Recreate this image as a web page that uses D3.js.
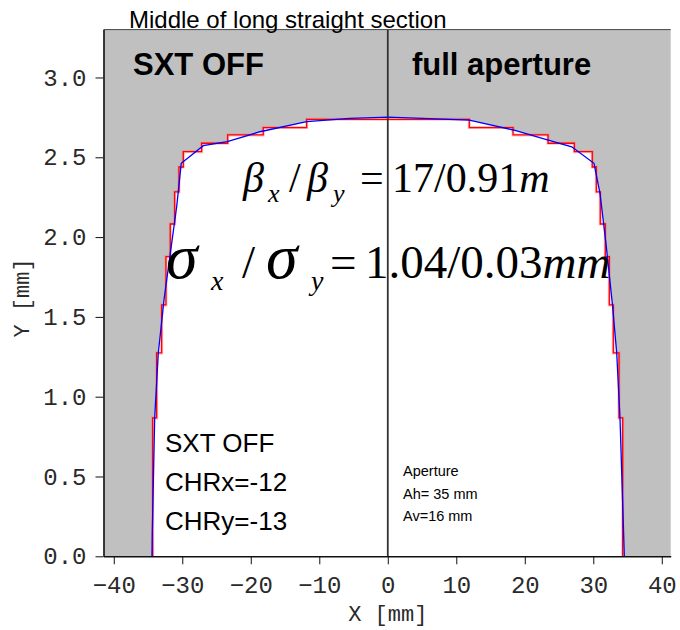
<!DOCTYPE html>
<html>
<head>
<meta charset="utf-8">
<script src="https://cdn.jsdelivr.net/npm/d3@7"></script>
<style>
  body { margin: 0; background: #fff; }
  svg text { font-family: "Liberation Sans", Arial, sans-serif; }
  .mono text, text.mono { font-family: "Liberation Mono", "Courier New", monospace; }
  text.math { font-family: "Liberation Serif", "Times New Roman", serif; }
</style>
</head>
<body>
<div id="chart"></div>
<script>
//Step boundary (red): y levels, left edge and right edge for each level
var stepY      = [0.867, 1.274, 1.575, 1.877, 2.082, 2.283, 2.439, 2.535, 2.588, 2.640, 2.686, 2.738];
var stepLeftX  = [-34.32, -33.74, -33.01, -32.38, -31.75, -31.11, -30.48, -29.85, -27.17, -23.37, -18.18, -11.84];
var stepRightX = [34.29, 33.75, 32.92, 32.34, 31.75, 31.02, 30.44, 29.85, 27.23, 23.39, 18.28, 11.90];

//Aperture curve (blue)
var curveX = [-34.42, -34.38, -34.03, -33.5, -32.67, -31.55, -30.82, -30.15, -26.93, -23.43, -18.66, -11.84, -5.52, 0,
              5.14, 11.9, 18.32, 23.43, 26.85, 30.1, 30.98, 31.85, 32.8, 33.42, 33.9, 34.53];
var curveY = [0, 0.146, 0.867, 1.274, 1.606, 1.961, 2.19, 2.462, 2.573, 2.598, 2.66, 2.723, 2.744, 2.751,
              2.744, 2.733, 2.671, 2.608, 2.566, 2.462, 2.274, 1.961, 1.575, 1.272, 0.865, 0];

var xTicks = [-40, -30, -20, -10, 0, 10, 20, 30, 40];
var yTicks = [0, 0.5, 1.0, 1.5, 2.0, 2.5, 3.0];

var width = 680, height = 630;
var margin = {top: 29.6, right: 9.3, bottom: 73.7, left: 103.5};

var svg = d3.select("#chart").append("svg")
    .attr("width", width)
    .attr("height", height);

var x = d3.scaleLinear().domain([-41.5, 41.3]).range([margin.left, width - margin.right]);
var y = d3.scaleLinear().domain([0, 3.3]).range([height - margin.bottom, margin.top]);

//grey background of the plot
svg.append("rect")
    .attr("x", x(-41.5)).attr("y", y(3.3))
    .attr("width", x(41.3) - x(-41.5))
    .attr("height", y(0) - y(3.3))
    .attr("fill", "#c0c0c0");

//build the step path points: left side going up, right side coming down
var stepPts = [[stepLeftX[0], 0]];
stepY.forEach(function (v, i) {
    stepPts.push([stepLeftX[i], v]);
    if (i + 1 < stepY.length) stepPts.push([stepLeftX[i + 1], v]);
});
for (var i = stepY.length - 1; i >= 0; i--) {
    stepPts.push([stepRightX[i], stepY[i]]);
    stepPts.push([stepRightX[i], i > 0 ? stepY[i - 1] : 0]);
}

var curvePts = curveX.map(function (d, i) { return [d, curveY[i]]; });

var line = d3.line().x(function (d) { return x(d[0]); }).y(function (d) { return y(d[1]); });

//white inside area (union of both boundaries)
svg.append("path").attr("d", line(stepPts) + "Z").attr("fill", "#fff");
svg.append("path").attr("d", line(curvePts) + "Z").attr("fill", "#fff");

//soft halo then the red step line
svg.append("path")
    .attr("d", line(stepPts))
    .attr("fill", "none")
    .attr("stroke", "#ff6060")
    .attr("stroke-opacity", 0.4)
    .attr("stroke-width", 3);
svg.append("path")
    .attr("d", line(stepPts))
    .attr("fill", "none")
    .attr("stroke", "#ff0000")
    .attr("stroke-width", 1.3);

svg.append("path")
    .attr("d", line(curvePts))
    .attr("fill", "none")
    .attr("stroke", "#0000ff")
    .attr("stroke-width", 1.3);

//middle line
svg.append("line")
    .attr("x1", x(0)).attr("x2", x(0))
    .attr("y1", y(0)).attr("y2", y(3.3))
    .attr("stroke", "#333").attr("stroke-width", 1.8);

//frame top
svg.append("line")
    .attr("x1", x(-41.5)).attr("x2", x(41.3))
    .attr("y1", y(3.3)).attr("y2", y(3.3))
    .attr("stroke", "#444").attr("stroke-width", 1);

//axes
var xAxis = svg.append("g")
    .attr("class", "mono")
    .attr("transform", "translate(0," + y(0) + ")")
    .call(d3.axisBottom(x).tickValues(xTicks).tickSize(8).tickPadding(12).tickSizeOuter(0));
var yAxis = svg.append("g")
    .attr("class", "mono")
    .attr("transform", "translate(" + x(-41.5) + ",0)")
    .call(d3.axisLeft(y).tickValues(yTicks).tickFormat(d3.format(".1f")).tickSize(8).tickPadding(9).tickSizeOuter(0));

[xAxis, yAxis].forEach(function (a) {
    a.select(".domain").attr("stroke", "#111").attr("stroke-width", 1.6);
    a.selectAll(".tick line").attr("stroke", "#111").attr("stroke-width", 1);
    a.selectAll("text").attr("font-size", 24).attr("fill", "#2a2a2a");
});

//axis labels
svg.append("text").attr("class", "mono")
    .attr("x", x(0)).attr("y", 621)
    .attr("text-anchor", "middle").attr("font-size", 22).attr("fill", "#2a2a2a")
    .text("X [mm]");
svg.append("text").attr("class", "mono")
    .attr("transform", "translate(29,298) rotate(-90)")
    .attr("text-anchor", "middle").attr("font-size", 22).attr("fill", "#2a2a2a")
    .text("Y [mm]");

//title
svg.append("text").attr("x", 129).attr("y", 27.5)
    .attr("font-size", 24).text("Middle of long straight section");

svg.append("text").attr("x", 133).attr("y", 75)
    .attr("font-size", 31).attr("font-weight", "bold").text("SXT OFF");
svg.append("text").attr("x", 412).attr("y", 75)
    .attr("font-size", 31).attr("font-weight", "bold").text("full aperture");

//formulas
var f1 = svg.append("text").attr("class", "math").attr("y", 192).attr("font-size", 42);
f1.append("tspan").attr("x", 243).attr("font-style", "italic").text("β");
f1.append("tspan").attr("x", 268).attr("dy", 10).attr("font-size", 26).attr("font-style", "italic").text("x");
f1.append("tspan").attr("x", 289).attr("dy", -10).text("/");
f1.append("tspan").attr("x", 307).attr("font-style", "italic").text("β");
f1.append("tspan").attr("x", 333).attr("dy", 10).attr("font-size", 26).attr("font-style", "italic").text("y");
f1.append("tspan").attr("x", 360).attr("dy", -10).text("=");
f1.append("tspan").attr("x", 392).text("17/0.91");
f1.append("tspan").attr("font-style", "italic").text("m");

var f2 = svg.append("text").attr("class", "math").attr("y", 278).attr("font-size", 47);
f2.append("tspan").attr("x", 166).attr("font-size", 64).attr("font-style", "italic").text("σ");
f2.append("tspan").attr("x", 211).attr("dy", 12).attr("font-size", 28).attr("font-style", "italic").text("x");
f2.append("tspan").attr("x", 242).attr("dy", -12).text("/");
f2.append("tspan").attr("x", 266).attr("font-size", 64).attr("font-style", "italic").text("σ");
f2.append("tspan").attr("x", 311).attr("dy", 12).attr("font-size", 28).attr("font-style", "italic").text("y");
f2.append("tspan").attr("x", 330).attr("dy", -12).text("=");
f2.append("tspan").attr("x", 365).text("1.04/0.03");
f2.append("tspan").attr("font-style", "italic").text("mm");

//settings notes
var notes = ["SXT OFF", "CHRx=-12", "CHRy=-13"];
svg.selectAll("text.note").data(notes).enter().append("text")
    .attr("class", "note")
    .attr("x", 165)
    .attr("y", function (d, i) { return 452 + i * 39; })
    .attr("font-size", 26)
    .text(function (d) { return d; });

var aper = ["Aperture", "Ah= 35 mm", "Av=16 mm"];
svg.selectAll("text.aper").data(aper).enter().append("text")
    .attr("class", "aper")
    .attr("x", 403)
    .attr("y", function (d, i) { return 476 + i * 22.5; })
    .attr("font-size", 14.5)
    .text(function (d) { return d; });
</script>
</body>
</html>
